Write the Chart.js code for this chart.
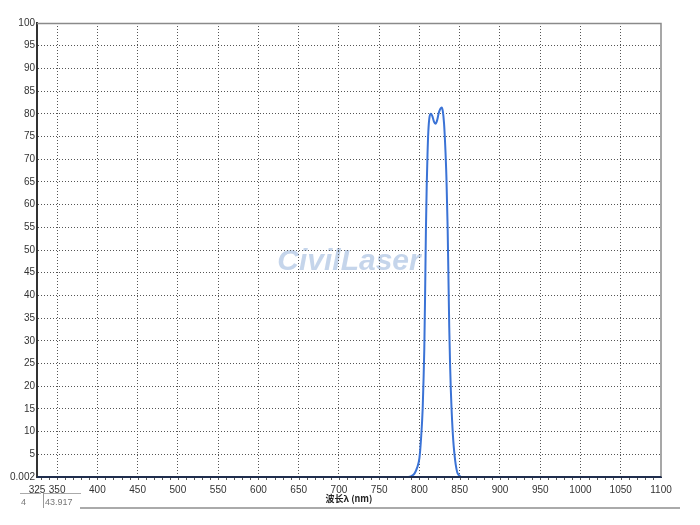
<!DOCTYPE html>
<html>
<head>
<meta charset="utf-8">
<script src="https://cdn.jsdelivr.net/npm/chart.js@4.4.0/dist/chart.umd.min.js"></script>
<style>
    html, body { margin: 0; padding: 0; background: #fff; }
    #wrap { position: relative; width: 700px; height: 525px; }
    #spectrumChart { position: absolute; left: 0; top: 0; }
    .cell { position: absolute; font: 9px 'Liberation Sans', Arial, sans-serif; color: #777; }
    .hline { position: absolute; height: 0; border-top: 2px solid #aaa; }
    .vline { position: absolute; width: 0; border-left: 1px solid #999; }
</style>
</head>
<body>
<div id="wrap">
    <canvas id="spectrumChart" width="700" height="525"></canvas>
    <div class="hline" style="left:20px; top:493px; width:21px; border-top-width:1px;"></div>
    <div class="hline" style="left:43px; top:493px; width:38px; border-top-width:1px;"></div>
    <div class="vline" style="left:43px; top:493px; height:15px;"></div>
    <div class="hline" style="left:80px; top:507px; width:600px;"></div>
    <div class="cell" style="left:21px; top:497px;">4</div>
    <div class="cell" style="left:45px; top:497px;">43.917</div>
</div>
<script>
// wavelength (nm) and transmission (%)
const wavelengths = [325, 780, 786, 790, 794, 797, 800, 802, 804, 805, 806, 807, 808, 809, 810, 811,
    812.5, 814.3, 816, 818, 820, 822, 824, 826, 827.6, 829, 830.5, 832, 833.5, 835, 836, 837, 838,
    839, 840, 842, 843.5, 845, 847, 849, 852, 1100];
const transmission = [0, 0, 0, 0.2, 0.8, 2, 4.2, 8.5, 15, 21, 28, 40, 54, 64, 71, 76,
    79.3, 80, 79.5, 78.3, 77.8, 78.6, 80.2, 81.1, 81.4, 80.6, 78, 73, 66, 55, 44, 33, 25,
    19, 14.5, 8, 5, 2.8, 1, 0.4, 0, 0];

const xTickValues = [325, 350, 400, 450, 500, 550, 600, 650, 700, 750, 800, 850, 900, 950, 1000, 1050, 1100];
const yTickValues = [0, 5, 10, 15, 20, 25, 30, 35, 40, 45, 50, 55, 60, 65, 70, 75, 80, 85, 90, 95, 100];
const yTickLabels = ['0.002', '5', '10', '15', '20', '25', '30', '35', '40', '45', '50', '55', '60', '65', '70', '75', '80', '85', '90', '95', '100'];

const X_MIN = 325, X_MAX = 1100;
const TICK_FONT = { family: "'Liberation Sans Narrow', 'Liberation Sans', Arial, sans-serif", size: 10 };

const points = wavelengths.map((w, i) => ({ x: w, y: transmission[i] }));

const frame = {
    id: 'frame',
    beforeDraw(chart) {
        const { ctx, chartArea: a } = chart;
        ctx.save();
        ctx.fillStyle = '#fff';
        ctx.fillRect(0, 0, chart.width, chart.height);
        // watermark sits under the grid
        ctx.font = "italic bold 30px 'Liberation Sans', Arial, sans-serif";
        ctx.fillStyle = 'rgba(150,178,218,0.55)';
        ctx.textAlign = 'center';
        ctx.textBaseline = 'middle';
        ctx.fillText('CivilLaser', (a.left + a.right) / 2, 262);
        ctx.restore();
    },
    afterDraw(chart) {
        const { ctx, chartArea: a } = chart;
        const xs = chart.scales.x;
        ctx.save();
        ctx.strokeStyle = '#8a8a8a';
        ctx.lineWidth = 1.5;
        ctx.beginPath();
        ctx.moveTo(a.left, a.top + 0.5);
        ctx.lineTo(a.right, a.top + 0.5);
        ctx.lineTo(a.right, a.bottom);
        ctx.stroke();
        // bottom axis sits on top of the curve's zero line
        ctx.strokeStyle = '#1f2d4d';
        ctx.lineWidth = 2;
        ctx.beginPath();
        ctx.moveTo(a.left, a.bottom);
        ctx.lineTo(a.right, a.bottom);
        ctx.stroke();
        // minor ticks every 10 nm under the axis
        ctx.strokeStyle = '#555';
        ctx.lineWidth = 1;
        ctx.beginPath();
        for (let v = 330; v < X_MAX; v += 10) {
            const px = Math.round(xs.getPixelForValue(v)) + 0.5;
            ctx.moveTo(px, a.bottom + 1);
            ctx.lineTo(px, a.bottom + 3);
        }
        ctx.stroke();
        ctx.restore();
    }
};

const isEdge = (v, lo, hi) => v === lo || v === hi;

new Chart(document.getElementById('spectrumChart').getContext('2d'), {
    type: 'line',
    data: {
        datasets: [{
            data: points,
            borderColor: '#3b73d6',
            borderWidth: 2,
            pointRadius: 0,
            fill: false,
            cubicInterpolationMode: 'monotone'
        }]
    },
    options: {
        responsive: false,
        animation: false,
        layout: { padding: { left: 0, right: 39, top: 23, bottom: 20 } },
        plugins: { legend: { display: false }, tooltip: { enabled: false } },
        scales: {
            x: {
                type: 'linear',
                min: X_MIN,
                max: X_MAX,
                afterBuildTicks: scale => { scale.ticks = xTickValues.map(v => ({ value: v })); },
                afterFit: scale => { scale.height = 28; },
                ticks: {
                    font: TICK_FONT, color: '#333', padding: 7, maxRotation: 0, autoSkip: false,
                    callback: v => String(v)
                },
                grid: {
                    drawTicks: false,
                    color: c => isEdge(c.tick && c.tick.value, X_MIN, X_MAX) ? 'rgba(0,0,0,0)' : '#555',
                    lineWidth: 1
                },
                border: { color: '#1f2d4d', width: 2, dash: [1, 2] },
                title: {
                    display: true,
                    text: '波长λ (nm)',
                    font: { family: "'Noto Sans CJK SC', sans-serif", size: 9, weight: 'bold' },
                    color: '#222',
                    padding: { top: 0, bottom: 1 }
                }
            },
            y: {
                min: 0,
                max: 100,
                afterBuildTicks: scale => { scale.ticks = yTickValues.map(v => ({ value: v })); },
                afterFit: scale => { scale.width = 37; },
                ticks: {
                    font: TICK_FONT,
                    color: '#333',
                    padding: 2,
                    autoSkip: false,
                    callback: v => yTickLabels[yTickValues.indexOf(v)]
                },
                grid: {
                    drawTicks: false,
                    color: c => isEdge(c.tick && c.tick.value, 0, 100) ? 'rgba(0,0,0,0)' : '#555',
                    lineWidth: 1
                },
                border: { color: '#333', width: 2, dash: [1, 2] }
            }
        }
    },
    plugins: [frame]
});
</script>
</body>
</html>
